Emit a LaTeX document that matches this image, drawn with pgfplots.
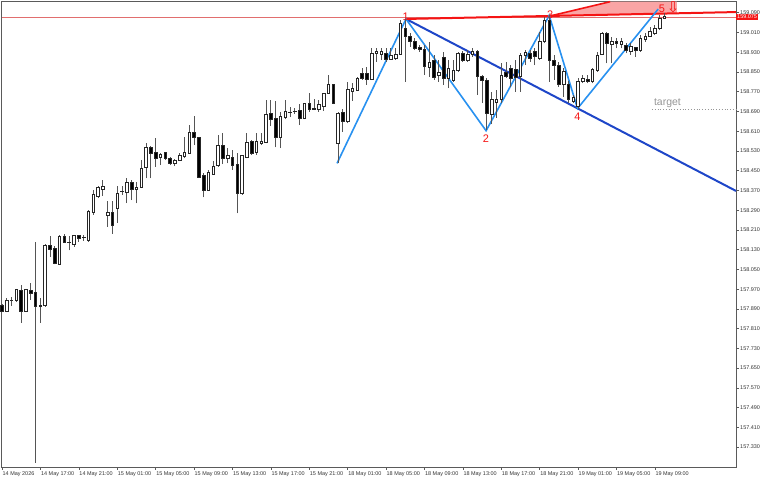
\documentclass[border=0pt]{standalone}
\usepackage{pgfplots}
\pgfplotsset{compat=1.18}
\usepackage{pgfplotstable}
\usepackage{fontspec}
\setmainfont{Liberation Sans}
\newfontfamily\symfont{DejaVu Sans}
\definecolor{wick}{RGB}{85,85,85}
\definecolor{axisgray}{RGB}{90,90,90}
\definecolor{zzblue}{RGB}{40,145,240}
\definecolor{tlblue}{RGB}{30,70,200}
\definecolor{mtred}{RGB}{245,20,20}
\definecolor{bidred}{RGB}{225,110,110}
\definecolor{pinkfill}{RGB}{250,165,165}
\definecolor{tgtgray}{RGB}{150,150,150}
\pgfdeclareplotmark{candle}{%
  \pgfsetbuttcap
  \pgfsetlinewidth{0.9bp}\pgfsetstrokecolor{wick}%
  \pgfpathmoveto{\pgfpoint{0bp}{0bp}}\pgfpathlineto{\pgfpoint{0bp}{\cH bp}}\pgfusepath{stroke}%
  \pgfsetlinewidth{0.8bp}\pgfsetstrokecolor{black!85}%
  \ifdim\vB pt>0.5pt \pgfsetfillcolor{white}\else\pgfsetfillcolor{black}\fi
  \pgfpathrectanglecorners{\pgfpoint{-1.3bp}{\cO bp}}{\pgfpoint{1.3bp}{\cC bp}}%
  \pgfusepath{fill,stroke}%
}
\pgfplotstableread{
i O H L C bull
0 157.902 157.910 157.877 157.881 0
1 157.881 157.935 157.877 157.926 1
2 157.926 157.938 157.902 157.925 0
3 157.924 157.971 157.918 157.967 1
4 157.964 157.987 157.833 157.881 0
5 157.881 157.971 157.877 157.967 1
6 157.964 157.996 157.926 157.953 0
7 157.956 158.162 157.266 157.899 0
8 157.902 157.935 157.834 157.900 0
9 157.902 158.154 157.898 158.149 1
10 158.149 158.185 158.100 158.133 0
11 158.137 158.145 158.070 158.076 0
12 158.072 158.189 158.068 158.185 1
13 158.185 158.194 158.157 158.161 0
14 158.161 158.185 158.127 158.159 0
15 158.153 158.191 158.142 158.187 1
16 158.187 158.191 158.162 158.176 0
17 158.179 158.191 158.166 158.181 1
18 158.169 158.291 158.162 158.284 1
19 158.280 158.372 158.271 158.352 1
20 158.345 158.388 158.338 158.383 1
21 158.376 158.412 158.348 158.388 1
22 158.268 158.329 158.223 158.280 1
23 158.280 158.329 158.194 158.230 0
24 158.298 158.388 158.238 158.358 1
25 158.365 158.388 158.352 158.366 1
26 158.361 158.420 158.319 158.401 1
27 158.401 158.412 158.331 158.375 0
28 158.375 158.406 158.318 158.383 1
29 158.383 158.493 158.379 158.460 1
30 158.464 158.561 158.419 158.545 1
31 158.543 158.550 158.419 158.521 0
32 158.523 158.581 158.466 158.500 0
33 158.503 158.521 158.473 158.518 1
34 158.523 158.527 158.493 158.500 0
35 158.500 158.504 158.473 158.480 0
36 158.480 158.496 158.469 158.493 1
37 158.493 158.521 158.491 158.510 1
38 158.507 158.588 158.500 158.523 1
39 158.521 158.635 158.518 158.604 1
40 158.606 158.672 158.554 158.584 0
41 158.584 158.588 158.420 158.423 0
42 158.429 158.440 158.342 158.372 0
43 158.372 158.453 158.369 158.442 1
44 158.437 158.491 158.433 158.469 1
45 158.470 158.595 158.466 158.554 1
46 158.554 158.602 158.477 158.500 0
47 158.500 158.541 158.480 158.510 1
48 158.504 158.534 158.453 158.473 0
49 158.476 158.523 158.277 158.358 0
50 158.356 158.514 158.352 158.510 1
51 158.504 158.602 158.500 158.564 1
52 158.568 158.575 158.514 158.521 0
53 158.523 158.602 158.514 158.568 1
54 158.561 158.602 158.554 158.568 1
55 158.564 158.737 158.561 158.680 1
56 158.683 158.737 158.631 158.656 0
57 158.662 158.734 158.545 158.586 0
58 158.586 158.689 158.541 158.669 1
59 158.667 158.737 158.658 158.689 1
60 158.687 158.707 158.667 158.688 1
61 158.689 158.703 158.680 158.690 1
62 158.696 158.720 158.635 158.662 0
63 158.662 158.726 158.658 158.723 1
64 158.723 158.764 158.689 158.699 0
65 158.700 158.740 158.696 158.701 1
66 158.699 158.737 158.689 158.720 1
67 158.710 158.766 158.693 158.764 1
68 158.764 158.838 158.761 158.798 1
69 158.798 158.802 158.720 158.723 0
70 158.561 158.688 158.480 158.683 1
71 158.685 158.699 158.608 158.649 0
72 158.649 158.811 158.642 158.780 1
73 158.770 158.804 158.734 158.784 1
74 158.777 158.829 158.774 158.825 1
75 158.845 158.865 158.818 158.825 0
76 158.845 158.872 158.798 158.822 0
77 158.822 158.946 158.818 158.926 1
78 158.926 158.946 158.892 158.935 1
79 158.922 158.946 158.899 158.932 1
80 158.926 158.946 158.890 158.903 0
81 158.903 158.946 158.899 158.919 1
82 158.906 158.949 158.899 158.922 1
83 158.922 159.061 158.919 159.048 1
84 159.027 159.065 158.811 158.993 0
85 158.996 159.007 158.953 158.973 0
86 158.973 158.987 158.939 158.946 0
87 158.950 158.960 158.932 158.942 0
88 158.942 158.960 158.838 158.872 0
89 158.869 158.973 158.831 158.888 1
90 158.899 158.919 158.818 158.830 0
91 158.838 158.899 158.810 158.850 1
92 158.911 158.931 158.798 158.826 0
93 158.826 158.899 158.785 158.866 1
94 158.818 158.899 158.810 158.858 1
95 158.858 158.931 158.850 158.927 1
96 158.926 158.935 158.891 158.896 0
97 158.896 158.939 158.891 158.923 1
98 158.922 158.947 158.911 158.932 1
99 158.932 158.939 158.757 158.831 0
100 158.831 158.838 158.724 158.818 0
101 158.815 158.826 158.615 158.683 0
102 158.680 158.770 158.639 158.737 1
103 158.726 158.777 158.664 158.740 1
104 158.737 158.885 158.724 158.838 1
105 158.847 158.891 158.826 158.831 0
106 158.865 158.878 158.791 158.825 0
107 158.862 158.899 158.769 158.830 0
108 158.831 158.927 158.770 158.919 1
109 158.919 158.939 158.878 158.928 1
110 158.926 158.939 158.891 158.906 0
111 158.932 158.946 158.878 158.912 0
112 158.906 159.014 158.899 158.973 1
113 158.973 159.073 158.966 159.061 1
114 159.061 159.081 158.811 158.899 0
115 158.899 158.919 158.818 158.878 0
116 158.878 158.892 158.791 158.798 0
117 158.798 158.866 158.749 158.851 1
118 158.800 158.815 158.726 158.740 0
119 158.730 158.758 158.723 158.748 1
120 158.712 158.825 158.700 158.811 1
121 158.811 158.838 158.804 158.825 1
122 158.822 158.838 158.804 158.811 0
123 158.811 158.865 158.804 158.861 1
124 158.858 158.932 158.851 158.919 1
125 158.923 159.014 158.919 159.007 1
126 159.007 159.014 158.885 158.967 0
127 158.960 158.993 158.885 158.973 1
128 158.973 158.987 158.946 158.967 0
129 158.960 158.987 158.946 158.973 1
130 158.956 158.967 158.926 158.939 0
131 158.932 158.967 158.919 158.953 1
132 158.950 158.953 158.912 158.939 0
133 158.939 159.000 158.932 158.987 1
134 158.983 159.007 158.973 158.993 1
135 158.996 159.034 158.993 159.014 1
136 159.007 159.041 159.000 159.027 1
137 159.027 159.081 159.020 159.068 1
138 159.068 159.088 159.064 159.075 1
}\candles
\begin{document}
\begin{tikzpicture}
\path[use as bounding box] (0,0) rectangle (768bp,480bp);
\begin{axis}[
  at={(1.5bp,13bp)}, anchor=south west,
  scale only axis, width=734.5bp, height=465.3bp,
  xmin=-0.104, xmax=152.917, ymin=157.249, ymax=159.135,
  clip=false, scaled ticks=false,
  axis line style={draw=axisgray, line width=0.8bp},
  ytick pos=right, xtick pos=bottom, tick align=outside,
  major tick length=3bp,
  tick style={draw=axisgray, line width=0.6bp},
  ytick={157.33,157.41,157.49,157.57,157.65,157.73,157.81,157.89,157.97,158.05,158.13,158.21,158.29,158.37,158.45,158.53,158.61,158.69,158.77,158.85,158.93,159.01,159.09},
  yticklabels={157.330,157.410,157.490,157.570,157.650,157.730,157.810,157.890,157.970,158.050,158.130,158.210,158.290,158.370,158.450,158.530,158.610,158.690,158.770,158.850,158.930,159.010,159.090},
  xtick={0,8,16,24,32,40,48,56,64,72,80,88,96,104,112,120,128,136},
  xticklabels={14 May 2026,14 May 17:00,14 May 21:00,15 May 01:00,15 May 05:00,15 May 09:00,15 May 13:00,15 May 17:00,15 May 21:00,18 May 01:00,18 May 05:00,18 May 09:00,18 May 13:00,18 May 17:00,18 May 21:00,19 May 01:00,19 May 05:00,19 May 09:00},
  yticklabel style={font=\fontsize{5.5}{6}\selectfont, text=black!80, anchor=west, inner sep=1bp},
  xticklabel style={font=\fontsize{5.5}{6}\selectfont, text=black!80, anchor=north west, inner sep=1bp, xshift=-0.5bp},
]
% candles: one mark per bar, placed at the low, wick and body sized from the row
\addplot[scatter, only marks, mark=candle, forget plot,
  visualization depends on={(\thisrow{H}-\thisrow{L})*246.713 \as \cH},
  visualization depends on={(\thisrow{O}-\thisrow{L})*246.713 \as \cO},
  visualization depends on={(\thisrow{C}-\thisrow{L})*246.713 \as \cC},
  visualization depends on={\thisrow{bull} \as \vB},
] table[x=i, y=L] {\candles};
% bid line
\addplot[bidred, line width=0.7bp, forget plot] coordinates {(-0.104,159.072) (152.917,159.072)};
% target dotted line
\addplot[tgtgray, dotted, line width=0.8bp, forget plot] coordinates {(135.4,158.698) (152.917,158.698)};
% dark blue trend line
\addplot[tlblue, line width=2bp, forget plot] coordinates {(84.17,159.065) (152.917,158.368)};
% pink zone
\addplot[fill=pinkfill, draw=none, forget plot] coordinates {(114.17,159.077) (126.7,159.135) (140.6,159.135) (140.6,159.085)} -- cycle;
\addplot[mtred, line width=1.6bp, forget plot] coordinates {(114.17,159.077) (126.7,159.135)};
\addplot[mtred, line width=2bp, forget plot] coordinates {(84.17,159.065) (152.917,159.093)};
% zigzag
\addplot[zzblue, line width=1.6bp, forget plot] coordinates {(69.8,158.480) (84.17,159.065) (100.85,158.612) (114,159.079) (119.9,158.702) (136.7,159.105)};
% labels
\node[text=mtred, font=\fontsize{11}{12}\selectfont] at (axis cs:84.1,159.073) {1};
\node[text=mtred, font=\fontsize{11}{12}\selectfont] at (axis cs:100.83,158.578) {2};
\node[text=mtred, font=\fontsize{11}{12}\selectfont] at (axis cs:114.2,159.081) {3};
\node[text=mtred, font=\fontsize{11}{12}\selectfont] at (axis cs:119.9,158.668) {4};
\node[text=mtred, font=\fontsize{11}{12}\selectfont] at (axis cs:137.5,159.106) {5};
\node[text=mtred, inner sep=0pt, font=\symfont\fontsize{15}{16}\selectfont] at (axis cs:139.8,159.112) {⇩};
\node[text=tgtgray, anchor=west, inner sep=0pt, font=\fontsize{10.5}{12}\selectfont] at (axis cs:135.8,158.725) {target};
\node[fill=mtred, text=white, anchor=west, inner sep=1bp, font=\fontsize{5.5}{6}\selectfont] at (axis cs:152.917,159.073) {159.075};
\end{axis}
\end{tikzpicture}
\end{document}
